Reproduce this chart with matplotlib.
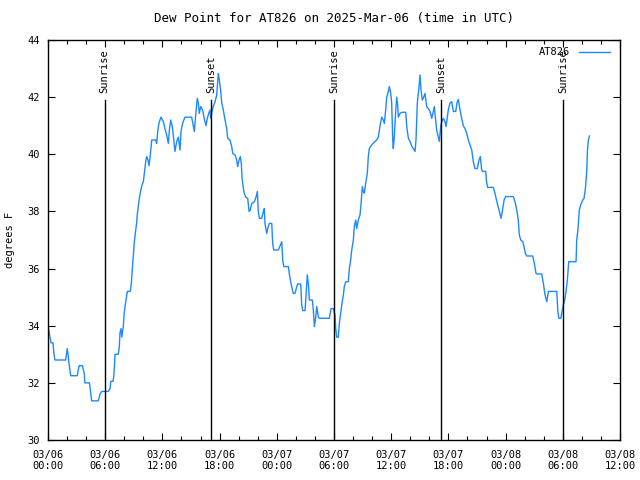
import matplotlib
matplotlib.use("Agg")
import matplotlib.pyplot as plt
from matplotlib.ticker import MultipleLocator

# hours since 2025-03-06 00:00 UTC, dew point in F
hours = [0.00, 0.10, 0.21, 0.31, 0.52, 0.63, 0.73, 1.86, 1.94, 2.02, 2.10, 2.20, 2.38, 3.07,
         3.20, 3.28, 3.62, 3.81, 3.86, 4.35, 4.48, 4.58, 5.28, 5.45, 5.63, 6.33, 6.51, 6.58,
         6.82, 6.92, 7.03, 7.37, 7.48, 7.55, 7.66, 7.74, 7.90, 7.97, 8.08, 8.18, 8.32, 8.63,
         8.74, 8.84, 8.95, 9.05, 9.16, 9.30, 9.37, 9.47, 9.58, 9.72, 9.83, 10.00, 10.10, 10.25,
         10.35, 10.49, 10.60, 10.70, 10.80, 10.88, 11.30, 11.40, 11.51, 11.64, 11.85, 12.10,
         12.27, 12.45, 12.62, 12.75, 12.87, 13.04, 13.14, 13.32, 13.50, 13.67, 13.85, 13.95,
         14.13, 14.37, 15.07, 15.24, 15.35, 15.49, 15.66, 15.77, 15.87, 16.02, 16.23, 16.36,
         16.57, 16.71, 16.86, 16.99, 17.07, 17.20, 17.34, 17.52, 17.70, 17.86, 17.97, 18.12,
         18.22, 18.39, 18.57, 18.75, 18.85, 19.09, 19.27, 19.38, 19.62, 19.79, 19.90, 20.04,
         20.17, 20.28, 20.35, 20.46, 20.59, 20.74, 20.95, 21.09, 21.22, 21.37, 21.64, 21.82,
         21.96, 22.06, 22.17, 22.42, 22.59, 22.69, 22.76, 22.94, 23.05, 23.21, 23.47, 23.57,
         23.68, 24.16, 24.34, 24.52, 24.62, 24.73, 25.21, 25.31, 25.42, 25.56, 25.73, 25.91,
         26.09, 26.19, 26.51, 26.61, 26.72, 26.96, 27.07, 27.20, 27.31, 27.41, 27.73, 27.83,
         27.94, 28.08, 28.19, 28.36, 28.46, 29.51, 29.69, 29.93, 30.11, 30.18, 30.28, 30.45,
         30.56, 30.70, 30.81, 30.98, 31.08, 31.23, 31.50, 31.61, 31.75, 31.86, 32.03, 32.13,
         32.28, 32.38, 32.55, 32.73, 32.83, 32.97, 33.08, 33.18, 33.33, 33.49, 33.60, 33.70,
         33.96, 34.30, 34.48, 34.65, 34.83, 35.00, 35.17, 35.28, 35.42, 35.53, 35.70, 35.80,
         35.95, 36.05, 36.16, 36.22, 36.32, 36.47, 36.58, 36.68, 36.75, 36.93, 37.10, 37.52,
         37.63, 37.80, 37.97, 38.15, 38.32, 38.50, 38.60, 38.74, 38.92, 39.02, 39.13, 39.26,
         39.41, 39.55, 39.72, 39.89, 40.07, 40.25, 40.42, 40.52, 40.67, 40.77, 40.94, 41.05,
         41.19, 41.30, 41.47, 41.64, 41.75, 41.89, 41.99, 42.17, 42.35, 42.52, 42.77, 42.90,
         43.04, 43.22, 43.39, 43.56, 43.74, 43.92, 44.09, 44.27, 44.45, 44.61, 44.79, 45.03,
         45.21, 45.35, 45.49, 45.60, 45.91, 46.02, 46.12, 46.71, 46.89, 47.00, 47.13, 47.31,
         47.52, 47.66, 47.84, 48.01, 48.81, 48.99, 49.17, 49.33, 49.44, 49.59, 49.80, 49.93,
         50.07, 50.22, 50.85, 51.01, 51.19, 51.33, 51.79, 51.96, 52.14, 52.32, 52.49, 53.37,
         53.47, 53.58, 53.79, 53.92, 54.06, 54.20, 54.34, 54.48, 54.62, 55.39, 55.46, 55.60,
         55.73, 55.88, 56.09, 56.23, 56.37, 56.52, 56.58, 56.68, 56.79]
dewpoint = [34.0, 33.8, 33.6, 33.4, 33.4, 33.0, 32.8, 32.8, 33.0, 33.2, 33.0, 32.7, 32.25, 32.25,
            32.5, 32.6, 32.6, 32.3, 32.0, 32.0, 31.65, 31.37, 31.37, 31.6, 31.7, 31.7, 31.8, 32.05,
            32.05, 32.3, 33.0, 33.0, 33.27, 33.74, 33.9, 33.6, 33.97, 34.37, 34.67, 34.9, 35.2, 35.2,
            35.5, 35.95, 36.4, 36.9, 37.24, 37.6, 37.9, 38.17, 38.47, 38.7, 38.9, 39.04, 39.33, 39.74,
            39.92, 39.8, 39.6, 39.87, 40.2, 40.5, 40.5, 40.38, 40.8, 41.1, 41.3, 41.14,
            40.9, 40.67, 40.38, 40.9, 41.2, 40.97, 40.67, 40.1, 40.45, 40.6, 40.15, 40.8,
            41.1, 41.3, 41.3, 41.0, 40.8, 41.37, 41.96, 41.8, 41.43, 41.67, 41.55, 41.3,
            41.0, 41.26, 41.43, 41.55, 41.26, 41.5, 41.67, 41.84, 42.07, 42.83, 42.6, 42.2,
            41.8, 41.55, 41.2, 40.9, 40.56, 40.5, 40.27, 40.03, 39.98, 39.8, 39.57, 39.8,
            39.92, 39.68, 39.2, 38.87, 38.63, 38.5, 38.46, 38.0, 38.05, 38.28, 38.34, 38.5,
            38.7, 38.0, 37.76, 37.76, 38.0, 38.1, 37.58, 37.23, 37.4, 37.58, 37.58, 36.88,
            36.65, 36.65, 36.8, 36.94, 36.3, 36.07, 36.07, 35.83, 35.6, 35.37, 35.13, 35.13,
            35.37, 35.46, 35.46, 34.73, 34.53, 34.53, 35.13, 35.78, 35.48, 34.9, 34.9, 34.55,
            33.97, 34.3, 34.67, 34.3, 34.26, 34.26, 34.6, 34.6, 34.37, 33.9, 33.6, 33.6,
            34.08, 34.43, 34.73, 35.07, 35.37, 35.54, 35.54, 36.0, 36.3, 36.65, 37.0, 37.47,
            37.7, 37.4, 37.7, 37.88, 38.23, 38.87, 38.7, 38.64, 39.0, 39.33, 39.92, 40.2,
            40.33, 40.45, 40.5, 40.6, 41.0, 41.3, 41.2, 41.08, 41.55, 42.0, 42.2, 42.37,
            42.13, 41.8, 40.5, 40.2, 40.6, 41.5, 42.0, 41.73, 41.3, 41.43, 41.47, 41.47,
            40.97, 40.56, 40.45, 40.29, 40.2, 40.1, 40.5, 41.8, 42.37, 42.78, 42.25, 41.9,
            42.0, 42.13, 41.67, 41.6, 41.5, 41.26, 41.5, 41.67, 41.2, 40.85, 40.6, 40.45,
            40.97, 41.14, 41.26, 41.14, 40.97, 41.3, 41.55, 41.8, 41.84, 41.5, 41.5, 41.8,
            41.92, 41.55, 41.26, 41.0, 40.9, 40.73, 40.5, 40.33, 40.15, 39.74, 39.5, 39.5,
            39.8, 39.92, 39.45, 39.4, 39.4, 39.0, 38.84, 38.84, 38.63, 38.46, 38.28, 38.05,
            37.76, 38.0, 38.4, 38.52, 38.52, 38.34, 38.05, 37.7, 37.18, 37.0, 36.94, 36.77,
            36.53, 36.44, 36.44, 36.18, 35.83, 35.81, 35.81, 35.48, 35.07, 34.84, 35.2, 35.2,
            34.55, 34.26, 34.26, 34.5, 34.73, 34.9, 35.2, 35.6, 36.24, 36.24, 37.0, 37.4,
            38.05, 38.23, 38.4, 38.46, 38.8, 39.45, 40.1, 40.5, 40.64]

sun_hours = [5.93, 17.15, 30.0, 41.25, 54.03]
sun_labels = ["Sunrise", "Sunset", "Sunrise", "Sunset", "Sunrise"]

tick_hours = [0, 6, 12, 18, 24, 30, 36, 42, 48, 54, 60]
tick_labels = ["03/06\n00:00", "03/06\n06:00", "03/06\n12:00", "03/06\n18:00",
               "03/07\n00:00", "03/07\n06:00", "03/07\n12:00", "03/07\n18:00",
               "03/08\n00:00", "03/08\n06:00", "03/08\n12:00"]

plt.rcParams['font.family'] = ['DejaVu Sans Mono']
plt.rcParams['font.size'] = 7.5

fig = plt.figure(figsize=(6.4, 4.8), dpi=100)
ax = fig.add_axes([48 / 640, 40 / 480, 572 / 640, 400 / 480])

ax.plot(hours, dewpoint, color='#1e88ff', lw=1.0, label='AT826')

# sunrise / sunset markers
for h, lab in zip(sun_hours, sun_labels):
    ax.plot([h, h], [30, 41.9], color='black', lw=1.0)
    ax.text(h, 42.15, lab, rotation=90, ha='center', va='bottom')

ax.set_xlim(0, 60)
ax.set_ylim(30, 44)
ax.set_xticks(tick_hours)
ax.set_xticklabels(tick_labels)
ax.xaxis.set_minor_locator(MultipleLocator(2))
ax.set_yticks(range(30, 45, 2))
ax.tick_params(which='both', direction='in', top=True, right=True)
ax.tick_params(axis='x', pad=7)
ax.tick_params(axis='y', pad=6)
ax.tick_params(which='major', length=5, width=0.8)
ax.tick_params(which='minor', length=3, width=0.8)
for s in ax.spines.values():
    s.set_linewidth(1.0)

ax.set_title("Dew Point for AT826 on 2025-Mar-06 (time in UTC)", pad=13)
ax.set_ylabel("degrees F")
ax.yaxis.set_label_coords(-33 / 572, 0.5)

ax.legend(loc='upper right', frameon=False, markerfirst=False, handlelength=3.0,
          borderaxespad=0.3, handletextpad=0.8, bbox_to_anchor=(0.995, 1.0))

fig.savefig("out.png", dpi=100)
